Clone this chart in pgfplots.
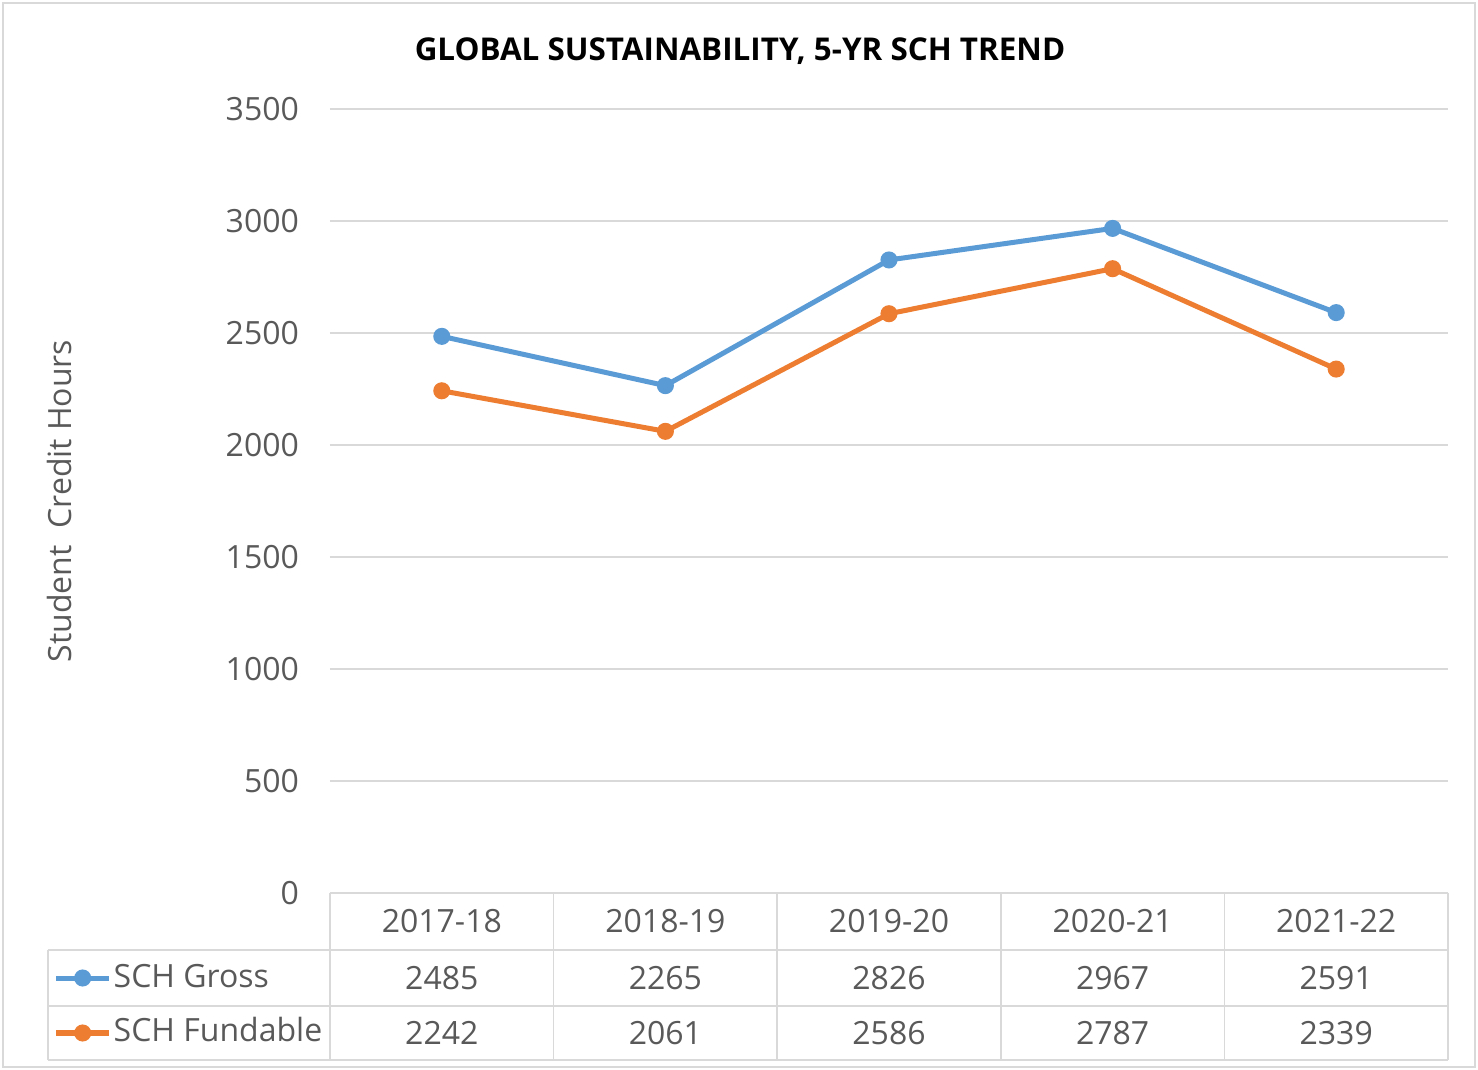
\documentclass[border=0pt]{standalone}
\usepackage{pgfplots}
\pgfplotsset{compat=1.18}
\usepackage{fontspec}
\setmainfont{Open Sans}
\definecolor{sblue}{HTML}{5B9BD5}
\definecolor{sorange}{HTML}{ED7D31}
\definecolor{tgray}{HTML}{595959}
\definecolor{gridc}{HTML}{D9D9D9}
\newcommand{\tf}{\fontsize{16}{18}\selectfont}
\begin{document}
\begin{tikzpicture}[x=1pt,y=1pt]
\path[use as bounding box] (-165,-88.5) rectangle (574,446.5);
\draw[gridc, line width=1pt] (-163.5,-87) rectangle (572.5,445);
\begin{axis}[at={(0,0)}, anchor=south west, width=559pt, height=392pt, scale only axis,
  xmin=-0.5, xmax=4.5, ymin=0, ymax=3500,
  ytick={0,500,...,3500}, xtick={0,1,2,3,4},
  xticklabels={2017-18,2018-19,2019-20,2020-21,2021-22},
  axis line style={draw=none}, ymajorgrids, grid style={gridc, line width=0.8pt},
  major tick length=0pt,
  tick label style={font=\tf, text=tgray},
  /pgf/number format/assume math mode=true,
  /pgf/number format/1000 sep={},
  yticklabel style={xshift=-12pt},
  xticklabel style={anchor=center, yshift=-14pt},
  ylabel={Student\ \ Credit Hours},
  ylabel style={at={(axis description cs:-0.2415,0.5)}, anchor=center, font=\tf, text=tgray},
  legend style={at={(axis description cs:-0.2475,-0.1435)}, anchor=west, draw=none, fill=none,
    inner sep=0pt, row sep=12.5pt, column sep=1pt, font=\tf, text=tgray,
    nodes={inner sep=0pt, text height=12pt, text depth=3pt}},
  legend cell align=left,
  legend image code/.code={\draw[mark repeat=2,mark phase=2] plot coordinates {(0pt,0pt)(13.25pt,0pt)(26.5pt,0pt)};},
]
\addplot[sblue, line width=2.5pt, mark=*, mark size=3pt] coordinates {(0,2485)(1,2265)(2,2826)(3,2967)(4,2591)};
\addlegendentry{SCH Gross}
\addplot[sorange, line width=2.5pt, mark=*, mark size=3pt] coordinates {(0,2242)(1,2061)(2,2586)(3,2787)(4,2339)};
\addlegendentry{SCH Fundable}
\end{axis}
% data table
\draw[gridc, line width=0.8pt] (0,0) -- (559,0);
\draw[gridc, line width=0.8pt] (-141,-28.5) -- (559,-28.5);
\draw[gridc, line width=0.8pt] (-141,-56.5) -- (559,-56.5);
\draw[gridc, line width=0.8pt] (-141,-83.5) -- (559,-83.5);
\draw[gridc, line width=0.8pt] (-141,-28.5) -- (-141,-83.5);
\foreach \xx in {0,111.8,223.6,335.4,447.2,559} {\draw[gridc, line width=0.8pt] (\xx,0) -- (\xx,-83.5);}
\foreach \v [count=\i from 0] in {2485,2265,2826,2967,2591} {\node[font=\tf, text=tgray, inner sep=0pt] at (55.9+111.8*\i,-42.5) {\v};}
\foreach \v [count=\i from 0] in {2242,2061,2586,2787,2339} {\node[font=\tf, text=tgray, inner sep=0pt] at (55.9+111.8*\i,-70) {\v};}
\node[font=\fontsize{15.7}{18}\selectfont\bfseries, inner sep=0pt] at (205,421) {GLOBAL SUSTAINABILITY, 5-YR SCH TREND};
\end{tikzpicture}
\end{document}
